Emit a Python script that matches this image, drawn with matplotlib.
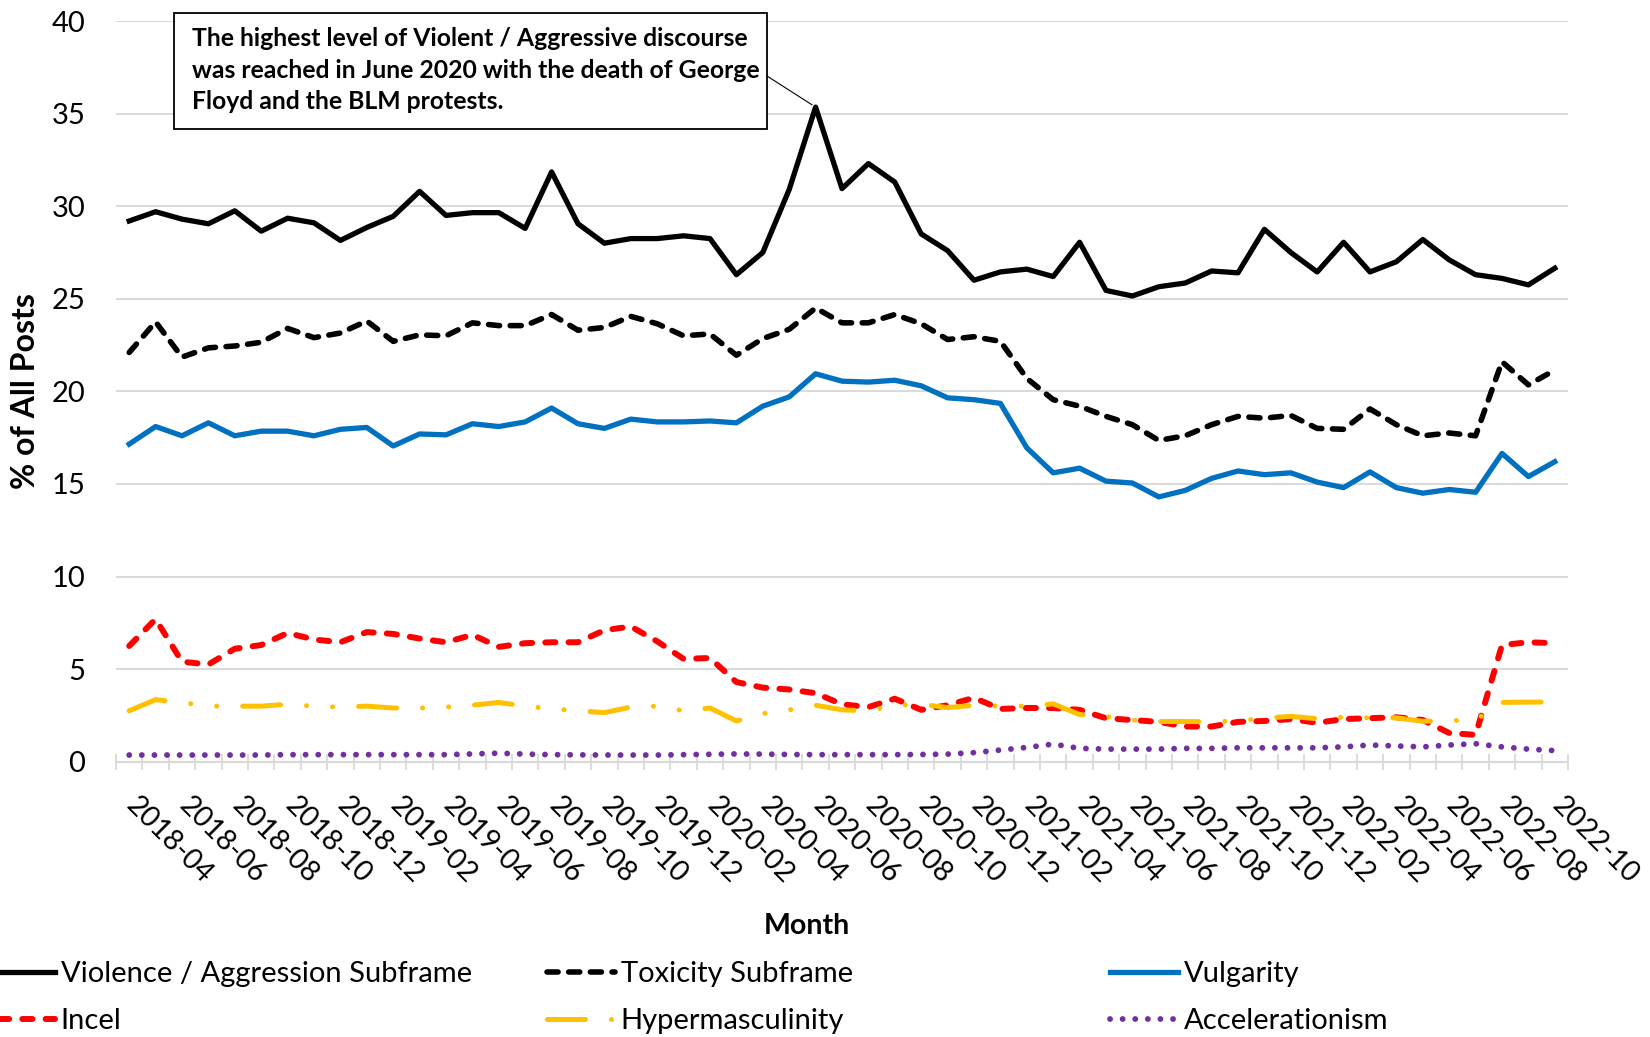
import matplotlib
matplotlib.use("Agg")
import matplotlib.pyplot as plt
from matplotlib.patches import Rectangle
from matplotlib.transforms import ScaledTranslation
import pandas as pd

plt.rcParams['font.family'] = ['Lato', 'DejaVu Sans']

# monthly categories 2018-04 .. 2022-10
months = list(pd.date_range('2018-04-01', periods=55, freq='MS').strftime('%Y-%m'))

violence = [29.2, 29.7, 29.3, 29.05, 29.75, 28.65, 29.35, 29.1, 28.15, 28.85,
            29.45, 30.8, 29.5, 29.65, 29.65, 28.8, 31.85, 29.05, 28.0, 28.25,
            28.25, 28.4, 28.25, 26.3, 27.5, 30.9, 35.35, 30.95, 32.3, 31.3,
            28.5, 27.6, 26.0, 26.45, 26.6, 26.2, 28.05, 25.45, 25.15, 25.65,
            25.85, 26.5, 26.4, 28.75, 27.5, 26.45, 28.05, 26.45, 27.0, 28.2,
            27.1, 26.3, 26.1, 25.75, 26.65]
toxicity = [22.1, 23.75, 21.85, 22.35, 22.45, 22.65, 23.4, 22.9, 23.15, 23.8,
            22.7, 23.05, 23.0, 23.7, 23.55, 23.55, 24.15, 23.3, 23.45, 24.05,
            23.65, 23.0, 23.1, 21.95, 22.85, 23.35, 24.5, 23.7, 23.7, 24.15,
            23.65, 22.8, 22.95, 22.7, 20.7, 19.55, 19.2, 18.65, 18.2, 17.35,
            17.6, 18.2, 18.65, 18.55, 18.7, 18.0, 17.95, 19.05, 18.2, 17.6,
            17.75, 17.6, 21.6, 20.35, 21.15]
vulgarity = [17.15, 18.1, 17.6, 18.3, 17.6, 17.85, 17.85, 17.6, 17.95, 18.05,
             17.05, 17.7, 17.65, 18.25, 18.1, 18.35, 19.1, 18.25, 18.0, 18.5,
             18.35, 18.35, 18.4, 18.3, 19.2, 19.7, 20.95, 20.55, 20.5, 20.6,
             20.3, 19.65, 19.55, 19.35, 16.95, 15.6, 15.85, 15.15, 15.05, 14.3,
             14.65, 15.3, 15.7, 15.5, 15.6, 15.1, 14.8, 15.65, 14.8, 14.5,
             14.7, 14.55, 16.65, 15.4, 16.2]
incel = [6.25, 7.7, 5.4, 5.25, 6.1, 6.3, 6.95, 6.6, 6.45, 7.0,
         6.9, 6.65, 6.45, 6.85, 6.2, 6.4, 6.45, 6.45, 7.1, 7.3,
         6.5, 5.55, 5.6, 4.3, 4.0, 3.9, 3.7, 3.1, 2.95, 3.4,
         2.8, 3.05, 3.45, 2.85, 2.9, 2.9, 2.8, 2.35, 2.25, 2.15,
         1.9, 1.9, 2.15, 2.2, 2.3, 2.1, 2.3, 2.35, 2.4, 2.25,
         1.55, 1.45, 6.3, 6.45, 6.4]
hyper = [2.75, 3.35, 3.2, 3.0, 3.0, 3.0, 3.1, 3.0, 2.95, 3.0,
         2.9, 2.9, 2.95, 3.05, 3.2, 3.0, 2.85, 2.75, 2.65, 2.95,
         3.0, 2.75, 2.9, 2.2, 2.6, 2.8, 3.05, 2.8, 2.75, 3.05,
         3.1, 2.92, 3.05, 3.0, 3.0, 3.12, 2.55, 2.45, 2.25, 2.17,
         2.17, 2.16, 2.2, 2.35, 2.45, 2.32, 2.4, 2.37, 2.37, 2.18,
         2.22, 2.25, 3.2, 3.22, 3.22]
accel = [0.36, 0.36, 0.36, 0.36, 0.36, 0.36, 0.38, 0.38, 0.38, 0.38,
         0.38, 0.38, 0.38, 0.42, 0.46, 0.41, 0.38, 0.37, 0.36, 0.36,
         0.36, 0.38, 0.4, 0.42, 0.41, 0.39, 0.38, 0.38, 0.38, 0.38,
         0.39, 0.41, 0.49, 0.63, 0.77, 0.95, 0.72, 0.68, 0.68, 0.68,
         0.72, 0.72, 0.75, 0.75, 0.75, 0.75, 0.8, 0.9, 0.85, 0.8,
         0.9, 0.97, 0.8, 0.68, 0.6]

note = ("The highest level of Violent / Aggressive discourse\n"
        "was reached in June 2020 with the death of George\n"
        "Floyd and the BLM protests.")

W, H = 1650, 1037
fig = plt.figure(figsize=(W / 100, H / 100), dpi=100)
ax = fig.add_axes([116 / W, 1 - 761.7 / H, (1568 - 116) / W, (761.7 - 21) / H])

x = list(range(len(months)))
common = dict(solid_joinstyle='round', dash_joinstyle='round')
l_vio, = ax.plot(x, violence, color='black', lw=3.8, label='Violence / Aggression Subframe', **common)
l_tox, = ax.plot(x, toxicity, color='black', lw=4.0, dashes=(2.0, 1.9), dash_capstyle='round',
                 label='Toxicity Subframe', **common)
l_vul, = ax.plot(x, vulgarity, color='#0070C0', lw=3.8, label='Vulgarity', **common)
l_inc, = ax.plot(x, incel, color='#FF0000', lw=4.3, dashes=(1.7, 2.2), dash_capstyle='round',
                 label='Incel', **common)
l_hyp, = ax.plot(x, hyper, color='#FFC000', lw=3.6, dashes=(7.6, 5.2, 0.01, 5.2, 0.01, 5.2),
                 dash_capstyle='round', label='Hypermasculinity', **common)
l_acc, = ax.plot(x, accel, color='#7030A0', lw=4.2, dashes=(0.01, 2.15), dash_capstyle='round',
                 label='Accelerationism', **common)

ax.set_xlim(-0.5, len(months) - 0.5)
ax.set_ylim(0, 40)
ax.set_yticks(range(0, 41, 5))
ax.yaxis.grid(True, color='#d9d9d9', lw=1.4)
ax.set_axisbelow(True)
for s in ['top', 'right', 'left']:
    ax.spines[s].set_visible(False)
ax.spines['bottom'].set_color('#d9d9d9')
ax.spines['bottom'].set_linewidth(1.6)

ax.set_xticks(x[::2])
ax.set_xticklabels(months[::2])
ax.set_xticks([i - 0.5 for i in range(len(months) + 1)], minor=True)
ax.tick_params(axis='x', which='minor', direction='inout', length=11, width=1.3, color='#d9d9d9')
ax.tick_params(axis='x', which='major', length=0, pad=22, labelsize=20.5)
ax.tick_params(axis='y', length=0, pad=22, labelsize=21)
shift = ScaledTranslation(7.5 / 72, 0, fig.dpi_scale_trans)
for lab in ax.get_xticklabels():
    lab.set_rotation(-45)
    lab.set_ha('left')
    lab.set_va('top')
    lab.set_rotation_mode('anchor')
    lab.set_transform(lab.get_transform() + shift)

ax.set_ylabel('% of All Posts', fontsize=23, fontweight='bold')
ax.yaxis.set_label_coords(-0.052, 0.5)
fig.text(807 / W, 1 - 926 / H, 'Month', fontsize=20.5, fontweight='bold', ha='center', va='center')

# annotation box
fig.patches.append(Rectangle((174 / W, 1 - 129 / H), (767 - 174) / W, (129 - 13) / H,
                             transform=fig.transFigure, fc='white', ec='black', lw=1.3, zorder=5))
fig.text(192 / W, 1 - 27 / H, note, fontsize=17.8, fontweight='bold', ha='left', va='top',
         linespacing=1.45, zorder=6)
ax.annotate('', xy=(26, violence[26]), xycoords='data', xytext=(767 / W, 1 - 76 / H),
            textcoords='figure fraction', annotation_clip=False,
            arrowprops=dict(arrowstyle='-', color='black', lw=0.8, shrinkA=0, shrinkB=3))

# legend: three fixed-width columns
leg_kw = dict(loc='upper left', frameon=False, fontsize=21, handlelength=2.33,
              handletextpad=0.2, labelspacing=0.72, borderpad=0, borderaxespad=0)
fig.legend([l_vio, l_inc], [l_vio.get_label(), l_inc.get_label()],
           bbox_to_anchor=(-13 / W, 1 - 961 / H), **leg_kw)
fig.legend([l_tox, l_hyp], [l_tox.get_label(), l_hyp.get_label()],
           bbox_to_anchor=(547 / W, 1 - 961 / H), **leg_kw)
fig.legend([l_vul, l_acc], [l_vul.get_label(), l_acc.get_label()],
           bbox_to_anchor=(1110 / W, 1 - 961 / H), **leg_kw)

fig.savefig('out.png', dpi=100)
